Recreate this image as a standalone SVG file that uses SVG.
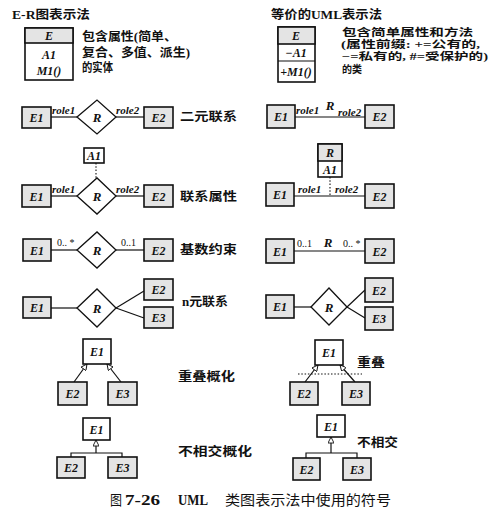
<svg xmlns="http://www.w3.org/2000/svg" width="496" height="522" viewBox="0 0 496 522">
<style>
.bg{fill:#fff}
.box{fill:#e4e4e4;stroke:#111;stroke-width:1.6}
.wbox{fill:#fff;stroke:#111;stroke-width:1.6}
.dia{fill:#fff;stroke:#111;stroke-width:1.3}
.ln{stroke:#111;stroke-width:1.2;fill:none}
.dot{stroke:#111;stroke-width:1.1;fill:none;stroke-dasharray:1.5 1.8}
.e{font-family:"Liberation Serif","Noto Sans CJK SC",serif;font-weight:bold;font-style:italic;font-size:12px;text-anchor:middle;fill:#111}
.r{font-family:"Liberation Serif",serif;font-weight:bold;font-style:italic;font-size:13px;text-anchor:middle;fill:#111}
.role{font-family:"Liberation Serif",serif;font-weight:bold;font-style:italic;font-size:11px;fill:#111}
.num{font-family:"Liberation Serif",serif;font-size:10px;fill:#111}
.cn{font-family:"Liberation Serif","Noto Sans CJK SC",sans-serif;font-weight:bold;font-size:12px;fill:#111}
.cs{font-family:"Liberation Serif","Noto Sans CJK SC",sans-serif;font-weight:bold;font-size:10.5px;fill:#111}
.cap{font-family:"Liberation Serif","Noto Sans CJK SC",serif;font-size:13.5px;fill:#111}
.capb{font-family:"Liberation Serif",serif;font-weight:bold;font-size:14px;fill:#111}
</style>
<defs>
<marker id="tri" viewBox="0 0 10 10" refX="10" refY="5" markerWidth="7" markerHeight="6" markerUnits="userSpaceOnUse" orient="auto">
<path d="M0,0 L10,5 L0,10 z" fill="#fff" stroke="#111" stroke-width="1.5"/>
</marker>
</defs>
<rect class="bg" x="0" y="0" width="496" height="522"/>

<g id="titles">
<text class="cn" x="12" y="19" textLength="78" lengthAdjust="spacingAndGlyphs">E-R图表示法</text>
<text class="cn" x="271" y="19" textLength="111" lengthAdjust="spacingAndGlyphs">等价的UML表示法</text>
<text class="cn" x="82" y="41" textLength="95" lengthAdjust="spacingAndGlyphs">包含属性(简单、</text>
<text class="cn" x="82" y="57" textLength="108" lengthAdjust="spacingAndGlyphs">复合、多值、派生)</text>
<text class="cn" x="82" y="72" textLength="31" lengthAdjust="spacingAndGlyphs">的实体</text>
<text class="cs" x="342" y="36" textLength="131" lengthAdjust="spacingAndGlyphs">包含简单属性和方法</text>
<text class="cs" x="341" y="48" textLength="139" lengthAdjust="spacingAndGlyphs">(属性前缀: +=公有的,</text>
<text class="cs" x="342" y="60" textLength="146" lengthAdjust="spacingAndGlyphs">−=私有的, #=受保护的)</text>
<text class="cs" x="342" y="73" textLength="20" lengthAdjust="spacingAndGlyphs">的类</text>
</g>

<g id="labels">
<text class="cn" x="180" y="121" textLength="57" lengthAdjust="spacingAndGlyphs">二元联系</text>
<text class="cn" x="180" y="201" textLength="57" lengthAdjust="spacingAndGlyphs">联系属性</text>
<text class="cn" x="180" y="254" textLength="57" lengthAdjust="spacingAndGlyphs">基数约束</text>
<text class="cn" x="182" y="306" textLength="46" lengthAdjust="spacingAndGlyphs">n元联系</text>
<text class="cn" x="178" y="381" textLength="57" lengthAdjust="spacingAndGlyphs">重叠概化</text>
<text class="cn" x="178" y="456" textLength="74" lengthAdjust="spacingAndGlyphs">不相交概化</text>
<text class="cn" x="357" y="367" textLength="28" lengthAdjust="spacingAndGlyphs">重叠</text>
<text class="cn" x="357" y="447" textLength="41" lengthAdjust="spacingAndGlyphs">不相交</text>
<text class="cap" x="110" y="505" textLength="12" lengthAdjust="spacingAndGlyphs">图</text>
<text class="capb" x="125" y="505" textLength="35" lengthAdjust="spacingAndGlyphs">7-26</text>
<text class="capb" x="178" y="505" textLength="30" lengthAdjust="spacingAndGlyphs">UML</text>
<text class="cap" x="225" y="505" textLength="166" lengthAdjust="spacingAndGlyphs">类图表示法中使用的符号</text>
</g>

<g id="connectors">
<line class="ln" x1="51" y1="117" x2="77" y2="117"/>
<line class="ln" x1="116" y1="117" x2="144" y2="117"/>
<line class="dot" x1="96" y1="163" x2="96" y2="178"/>
<line class="ln" x1="51" y1="196" x2="77" y2="196"/>
<line class="ln" x1="116" y1="196" x2="144" y2="196"/>
<line class="ln" x1="51" y1="250" x2="77" y2="250"/>
<line class="ln" x1="116" y1="250" x2="144" y2="250"/>
<line class="ln" x1="51" y1="308" x2="77" y2="308"/>
<line class="ln" x1="116" y1="308" x2="144" y2="291"/>
<line class="ln" x1="116" y1="308" x2="144" y2="318"/>
<line class="ln" x1="74" y1="382" x2="87" y2="364" marker-end="url(#tri)"/>
<line class="ln" x1="121" y1="382" x2="107" y2="364" marker-end="url(#tri)"/>
<line class="ln" x1="96" y1="453" x2="96" y2="440" marker-end="url(#tri)"/>
<polyline class="ln" points="71,457 71,453 122,453 122,457"/>
<line class="ln" x1="295" y1="117" x2="365" y2="117"/>
<line class="dot" x1="330" y1="177" x2="330" y2="196"/>
<line class="ln" x1="294" y1="196" x2="365" y2="196"/>
<line class="ln" x1="294" y1="251" x2="365" y2="251"/>
<line class="ln" x1="294" y1="307" x2="311" y2="307"/>
<line class="ln" x1="347" y1="307" x2="365" y2="290"/>
<line class="ln" x1="347" y1="307" x2="365" y2="318"/>
<line class="ln" x1="305" y1="382" x2="318" y2="365" marker-end="url(#tri)"/>
<line class="ln" x1="355" y1="382" x2="340" y2="365" marker-end="url(#tri)"/>
<line class="dot" x1="298" y1="374" x2="362" y2="374"/>
<line class="ln" x1="331" y1="453" x2="331" y2="437" marker-end="url(#tri)"/>
<polyline class="ln" points="306,458 306,453 357,453 357,458"/>
<text class="role" x="52" y="114">role1</text>
<text class="role" x="116" y="114">role2</text>
<text class="role" x="52" y="193">role1</text>
<text class="role" x="116" y="193">role2</text>
<text class="num" x="57" y="246">0.. *</text>
<text class="num" x="121" y="246">0..1</text>
<text class="role" x="296" y="114">role1</text>
<text class="r" x="330" y="110">R</text>
<text class="role" x="338" y="116">role2</text>
<text class="role" x="298" y="193">role1</text>
<text class="role" x="335" y="193">role2</text>
<text class="num" x="297" y="247">0..1</text>
<text class="r" x="328" y="247">R</text>
<text class="num" x="343" y="247">0.. *</text>
</g>

<g id="er-entity">
<rect class="wbox" x="25" y="28" width="48" height="52"/>
<rect class="box" x="25" y="28" width="48" height="15"/>
<text class="e" x="49" y="40">E</text>
<text class="e" x="49" y="59">A1</text>
<text class="e" x="49" y="75">M1()</text>
</g>
<g id="uml-class">
<rect class="wbox" x="278" y="27" width="37" height="55"/>
<rect class="box" x="278" y="27" width="37" height="17"/>
<line class="ln" x1="278" y1="61" x2="315" y2="61"/>
<text class="e" x="296" y="40">E</text>
<text class="e" x="296" y="57">−A1</text>
<text class="e" x="296" y="76">+M1()</text>
</g>

<g id="l1-e1"><rect class="box" x="22" y="107" width="29" height="21"/><text class="e" x="36.5" y="122">E1</text></g>
<g id="l1-r"><polygon class="dia" points="77,117 97,100 116,117 97,134"/><text class="r" x="97" y="121.5">R</text></g>
<g id="l1-e2"><rect class="box" x="144" y="107" width="29" height="21"/><text class="e" x="158.5" y="122">E2</text></g>
<g id="l2-a1"><rect class="wbox" x="84" y="148" width="20" height="15"/><text class="e" x="94" y="160">A1</text></g>
<g id="l2-e1"><rect class="box" x="22" y="185" width="29" height="22"/><text class="e" x="36.5" y="200.5">E1</text></g>
<g id="l2-r"><polygon class="dia" points="77,196 97,178 116,196 97,214"/><text class="r" x="97" y="200.5">R</text></g>
<g id="l2-e2"><rect class="box" x="144" y="185" width="29" height="22"/><text class="e" x="158.5" y="200.5">E2</text></g>
<g id="l3-e1"><rect class="box" x="23" y="239" width="28" height="22"/><text class="e" x="37" y="254.5">E1</text></g>
<g id="l3-r"><polygon class="dia" points="77,250 97,232 116,250 97,268"/><text class="r" x="97" y="254.5">R</text></g>
<g id="l3-e2"><rect class="box" x="144" y="239" width="29" height="22"/><text class="e" x="158.5" y="254.5">E2</text></g>
<g id="l4-e1"><rect class="box" x="23" y="297" width="28" height="21"/><text class="e" x="37" y="312">E1</text></g>
<g id="l4-r"><polygon class="dia" points="77,308 97,289 116,308 97,327"/><text class="r" x="97" y="312.5">R</text></g>
<g id="l4-e2"><rect class="box" x="144" y="279" width="29" height="21"/><text class="e" x="158.5" y="294">E2</text></g>
<g id="l4-e3"><rect class="box" x="144" y="307" width="29" height="21"/><text class="e" x="158.5" y="322">E3</text></g>
<g id="l5-e1"><rect class="wbox" x="83" y="339" width="28" height="25"/><text class="e" x="97" y="355.5">E1</text></g>
<g id="l5-e2"><rect class="box" x="58" y="382" width="29" height="23"/><text class="e" x="72.5" y="397.5">E2</text></g>
<g id="l5-e3"><rect class="box" x="108" y="382" width="29" height="23"/><text class="e" x="122.5" y="397.5">E3</text></g>
<g id="l6-e1"><rect class="wbox" x="83" y="418" width="27" height="22"/><text class="e" x="96.5" y="433.5">E1</text></g>
<g id="l6-e2"><rect class="box" x="57" y="457" width="28" height="21"/><text class="e" x="71" y="472">E2</text></g>
<g id="l6-e3"><rect class="box" x="108" y="457" width="29" height="21"/><text class="e" x="122.5" y="472">E3</text></g>

<g id="r1-e1"><rect class="box" x="267" y="105" width="28" height="23"/><text class="e" x="281" y="121">E1</text></g>
<g id="r1-e2"><rect class="box" x="365" y="105" width="29" height="23"/><text class="e" x="379.5" y="121">E2</text></g>
<g id="r2-ra1"><rect class="wbox" x="318" y="144" width="24" height="33"/><rect class="box" x="318" y="144" width="24" height="17"/><text class="e" x="330" y="157">R</text><text class="e" x="330" y="173.5">A1</text></g>
<g id="r2-e1"><rect class="box" x="266" y="183" width="28" height="23"/><text class="e" x="280" y="199">E1</text></g>
<g id="r2-e2"><rect class="box" x="365" y="184" width="29" height="24"/><text class="e" x="379.5" y="200.5">E2</text></g>
<g id="r3-e1"><rect class="box" x="266" y="239" width="28" height="24"/><text class="e" x="280" y="255.5">E1</text></g>
<g id="r3-e2"><rect class="box" x="365" y="239" width="29" height="24"/><text class="e" x="379.5" y="255.5">E2</text></g>
<g id="r4-e1"><rect class="box" x="266" y="295" width="28" height="23"/><text class="e" x="280" y="311">E1</text></g>
<g id="r4-r"><polygon class="dia" points="311,307 329,288 347,307 329,325"/><text class="r" x="329" y="311.5">R</text></g>
<g id="r4-e2"><rect class="box" x="365" y="278" width="28" height="24"/><text class="e" x="379" y="294.5">E2</text></g>
<g id="r4-e3"><rect class="box" x="365" y="307" width="28" height="23"/><text class="e" x="379" y="323">E3</text></g>
<g id="r5-e1"><rect class="wbox" x="315" y="340" width="28" height="25"/><text class="e" x="329" y="356.5">E1</text></g>
<g id="r5-e2"><rect class="box" x="290" y="382" width="28" height="23"/><text class="e" x="304" y="397.5">E2</text></g>
<g id="r5-e3"><rect class="box" x="342" y="382" width="28" height="23"/><text class="e" x="356" y="397.5">E3</text></g>
<g id="r6-e1"><rect class="wbox" x="317" y="415" width="28" height="22"/><text class="e" x="331" y="430.5">E1</text></g>
<g id="r6-e2"><rect class="box" x="293" y="458" width="27" height="22"/><text class="e" x="306.5" y="473.5">E2</text></g>
<g id="r6-e3"><rect class="box" x="343" y="458" width="28" height="22"/><text class="e" x="357" y="473.5">E3</text></g>
</svg>
